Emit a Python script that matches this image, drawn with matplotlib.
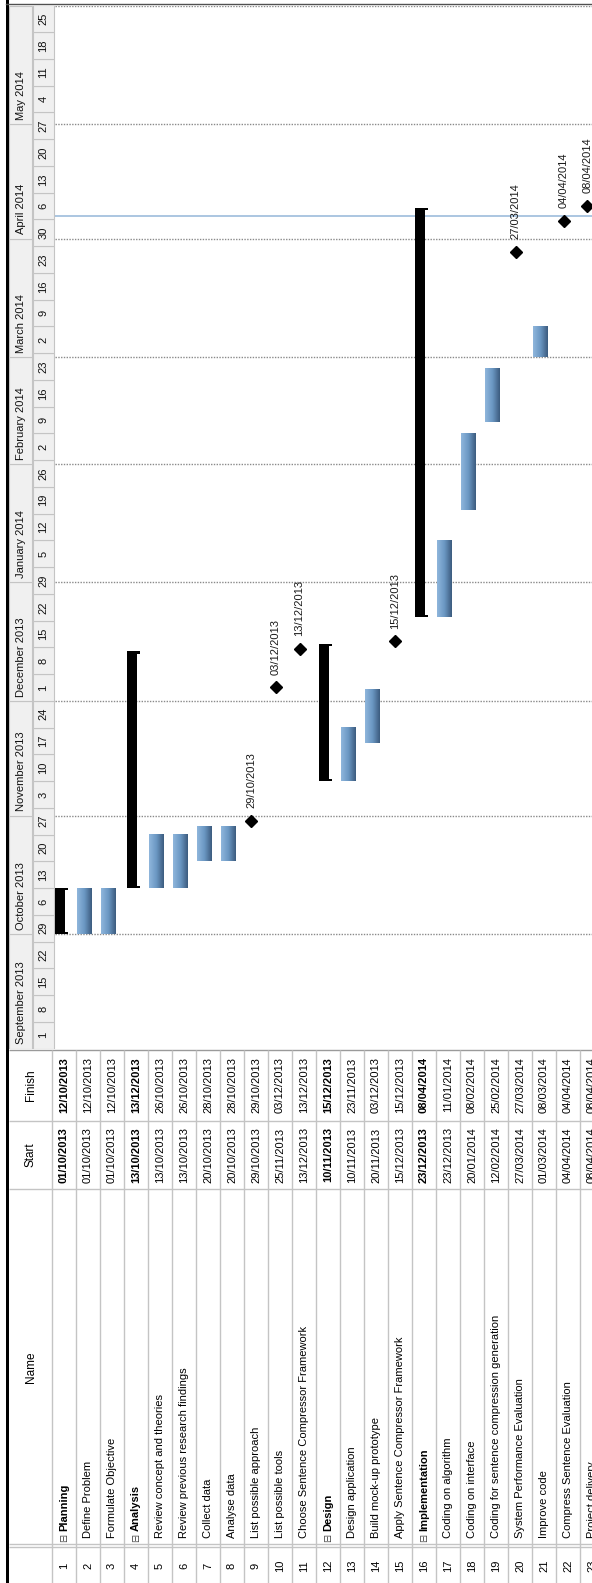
import matplotlib
matplotlib.use("Agg")
import matplotlib.pyplot as plt
import matplotlib.dates as mdates
from matplotlib.colors import LinearSegmentedColormap
from matplotlib.patches import Rectangle
import numpy as np
import pandas as pd

plt.rcParams['font.family'] = ['Liberation Sans', 'DejaVu Sans']

task_names = ["Planning", "Define Problem", "Formulate Objective", "Analysis",
              "Review concept and theories", "Review previous research findings",
              "Collect data", "Analyse data", "List possible approach",
              "List possible tools", "Choose Sentence Compressor Framework",
              "Design", "Design application", "Build mock-up prototype",
              "Apply Sentence Compressor Framework", "Implementation",
              "Coding on algorithm", "Coding on interface",
              "Coding for sentence compression generation",
              "System Performance Evaluation", "Improve code",
              "Compress Sentence Evaluation", "Project delivery"]
task_start = ["01/10/2013", "01/10/2013", "01/10/2013", "13/10/2013", "13/10/2013",
              "13/10/2013", "20/10/2013", "20/10/2013", "29/10/2013", "25/11/2013",
              "13/12/2013", "10/11/2013", "10/11/2013", "20/11/2013", "15/12/2013",
              "23/12/2013", "23/12/2013", "20/01/2014", "12/02/2014", "27/03/2014",
              "01/03/2014", "04/04/2014", "08/04/2014"]
task_finish = ["12/10/2013", "12/10/2013", "12/10/2013", "13/12/2013", "26/10/2013",
               "26/10/2013", "28/10/2013", "28/10/2013", "29/10/2013", "03/12/2013",
               "13/12/2013", "15/12/2013", "23/11/2013", "03/12/2013", "15/12/2013",
               "08/04/2014", "11/01/2014", "08/02/2014", "25/02/2014", "27/03/2014",
               "08/03/2014", "04/04/2014", "08/04/2014"]
task_type = ["summary", "task", "task", "summary", "task", "task", "task", "task",
             "milestone", "milestone", "milestone", "summary", "task", "task",
             "milestone", "summary", "task", "task", "task", "milestone", "task",
             "milestone", "milestone"]

month_labels = ["September 2013", "October 2013", "November 2013", "December 2013",
                "January 2014", "February 2014", "March 2014", "April 2014", "May 2014"]
month_starts = ["2013-09-01", "2013-10-01", "2013-11-01", "2013-12-01", "2014-01-01",
                "2014-02-01", "2014-03-01", "2014-04-01", "2014-05-01"]
chart_start = "2013-09-01"
chart_end = "2014-06-01"
today = "2014-04-07"

W, H = 592, 1583
ROW = 24     # px per task row
X0 = 52      # px where row 1 begins
GANTT_BOTTOM = 1048.6
GANTT_TOP = 5.5


def px(v):
    return (v - X0) / ROW


def dnum(s, dayfirst=False):
    return mdates.date2num(pd.to_datetime(s, dayfirst=dayfirst))


def main():
    fig = plt.figure(figsize=(W / 100, H / 100), dpi=100)

    # ---- gantt part ----
    ax = fig.add_axes([9 / W, (H - GANTT_BOTTOM) / H, (W - 9) / W,
                       (GANTT_BOTTOM - GANTT_TOP) / H])
    y_lo, y_hi = dnum(chart_start), dnum(chart_end)

    # month header column
    for i, lab in enumerate(month_labels):
        m0 = dnum(month_starts[i])
        m1 = dnum(month_starts[i + 1]) if i + 1 < len(month_starts) else y_hi
        ax.add_patch(Rectangle((px(9), m0), px(32) - px(9), m1 - m0,
                               facecolor="#f0f0f0", edgecolor="#c4c4c4", lw=0.8))
        ax.annotate(lab, (px(21), m0), xytext=(0, 3), textcoords="offset points",
                    rotation=90, rotation_mode="anchor", ha="left", va="center",
                    fontsize=8, color="#111111")

    # week header column
    for wk in pd.date_range(chart_start, chart_end, freq="7D")[:-1]:
        w0 = mdates.date2num(wk)
        ax.add_patch(Rectangle((px(33), w0), px(54) - px(33), 7,
                               facecolor="#f0f0f0", edgecolor="#c4c4c4", lw=0.8))
        ax.text(px(43.5), w0 + 3.5, str(wk.day), rotation=90, rotation_mode="anchor",
                ha="center", va="center", fontsize=8, color="#111111")

    # dotted month lines and today line
    for s in month_starts[1:] + [chart_end]:
        ax.hlines(dnum(s), px(55), px(W), colors="#8a8a8a", lw=1,
                  linestyles=(0, (1, 1)))
    ax.hlines(dnum(today), px(55), px(W), colors="#9dbcdb", lw=1.2, zorder=2)

    cmap = LinearSegmentedColormap.from_list("bar", ["#8fb6dc", "#6b97c3", "#3d5d80"])
    grad = np.linspace(0, 1, 32).reshape(1, -1)

    for i, kind in enumerate(task_type):
        left = i
        s = dnum(task_start[i], dayfirst=True)
        f = dnum(task_finish[i], dayfirst=True) + 1
        if kind == "task":
            ax.imshow(grad, extent=[left + 1 / ROW, left + 16 / ROW, s, f],
                      aspect="auto", cmap=cmap, interpolation="bilinear", zorder=3)
        elif kind == "summary":
            ax.add_patch(Rectangle((left + 3 / ROW, s), 10 / ROW, f - s,
                                   facecolor="black", edgecolor="none", zorder=3))
            for yy in (s, f - 0.6):
                ax.add_patch(Rectangle((left + 12 / ROW, yy), 4 / ROW, 0.6,
                                       facecolor="black", edgecolor="none", zorder=3))
        else:
            ym = f + 0.6
            ax.plot(left + 7.5 / ROW, ym, marker="D", color="black", markersize=6,
                    zorder=4)
            ax.annotate(task_finish[i], (left + 7.5 / ROW, ym), xytext=(0, 9),
                        textcoords="offset points", rotation=90,
                        rotation_mode="anchor", ha="left", va="center",
                        fontsize=8, color="#1a1a1a")

    ax.set_xlim(px(9), px(W))
    ax.set_ylim(y_lo, y_hi)
    ax.axis("off")

    # ---- table part ----
    tab = fig.add_axes([0, 0, 1, (H - GANTT_BOTTOM) / H])
    tab.set_xlim(px(0), px(W))
    tab.set_ylim(H, GANTT_BOTTOM)
    tab.axis("off")

    tab.hlines(1050, px(9), px(W), colors="#9a9a9a", lw=1)
    for yy in (1121, 1189, 1544, 1547):
        tab.hlines(yy, px(9), px(W), colors="#c4c4c4", lw=1)
    for k in range(len(task_names)):
        tab.vlines(k, 1050, H, colors="#c4c4c4", lw=1)

    for lab, yy in (("Finish", 1085), ("Start", 1155), ("Name", 1367)):
        tab.text(px(31), yy, lab, rotation=90, rotation_mode="anchor",
                 ha="center", va="center", fontsize=8.5)

    for i, name in enumerate(task_names):
        xc = i + 0.5
        bold = task_type[i] == "summary"
        fw = "bold" if bold else "normal"
        tab.text(xc, 1566, str(i + 1), rotation=90, rotation_mode="anchor",
                 ha="center", va="center", fontsize=8)
        tab.text(xc, 1085, task_finish[i], rotation=90, rotation_mode="anchor",
                 ha="center", va="center", fontsize=8, fontweight=fw)
        tab.text(xc, 1155, task_start[i], rotation=90, rotation_mode="anchor",
                 ha="center", va="center", fontsize=8, fontweight=fw)
        if bold:
            tab.text(xc, 1542, "\u229f", rotation=90, rotation_mode="anchor",
                     ha="left", va="center", fontsize=7, family="DejaVu Sans",
                     color="#444444")
            tab.text(xc, 1531, name, rotation=90, rotation_mode="anchor",
                     ha="left", va="center", fontsize=8, fontweight="bold")
        else:
            tab.text(xc, 1538, name, rotation=90, rotation_mode="anchor",
                     ha="left", va="center", fontsize=8)

    # frame
    fig.add_artist(Rectangle((6 / W, 0), 3 / W, 1, transform=fig.transFigure,
                             facecolor="black", edgecolor="none"))
    fig.add_artist(plt.Line2D([6 / W, 1], [1 - 3.5 / H, 1 - 3.5 / H],
                              transform=fig.transFigure, color="#505050", lw=1))

    fig.savefig("out.png", dpi=100)


if __name__ == "__main__":
    main()
